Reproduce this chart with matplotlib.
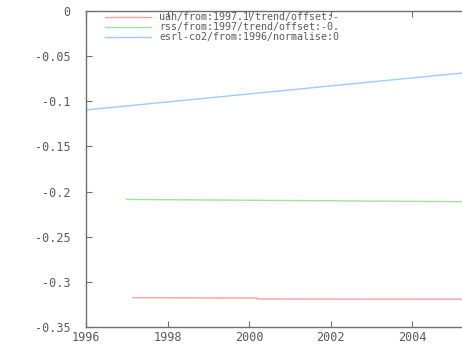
import matplotlib
matplotlib.use("Agg")
import matplotlib.pyplot as plt
from matplotlib.ticker import FixedLocator, FuncFormatter

# Data
labels = ["uah/from:1997.1/trend/offset:-",
          "rss/from:1997/trend/offset:-0.",
          "esrl-co2/from:1996/normalise:0"]
colors = ["#ff9f9f", "#9fe39f", "#9fcbff"]

uah_x = [1997.15, 2000.2, 2000.2, 2005.22]
uah_y = [-0.3175, -0.3180, -0.3190, -0.3192]
rss_x = [1997.0, 2005.22]
rss_y = [-0.2087, -0.2112]
co2_x = [1996.0, 2005.22]
co2_y = [-0.1096, -0.0687]

xticks = [1996, 1998, 2000, 2002, 2004]
yticks = [0, -0.05, -0.1, -0.15, -0.2, -0.25, -0.3, -0.35]

fig = plt.figure(figsize=(4.62, 3.47), dpi=100)
ax = fig.add_axes([86/462, 1-327/347, 376/462, 316/347])

ax.plot(uah_x, uah_y, color=colors[0], lw=1.0, label=labels[0])
ax.plot(rss_x, rss_y, color=colors[1], lw=1.0, label=labels[1])
ax.plot(co2_x, co2_y, color=colors[2], lw=1.0, label=labels[2])

ax.set_xlim(1996, 2005.22)
ax.set_ylim(-0.35, 0)

fam = "DejaVu Sans Mono"
fsize = 8.5
txtcol = "#5a5a5a"
ax.xaxis.set_major_locator(FixedLocator(xticks))
ax.yaxis.set_major_locator(FixedLocator(yticks))
ax.xaxis.set_major_formatter(FuncFormatter(lambda v, p: "%d" % round(v)))
ax.yaxis.set_major_formatter(FuncFormatter(lambda v, p: "0" if abs(v) < 1e-9 else ("%g" % v)))
for lab in ax.get_xticklabels() + ax.get_yticklabels():
    lab.set_fontfamily(fam)
    lab.set_fontsize(fsize)
    lab.set_color(txtcol)

ax.tick_params(axis="both", direction="in", length=4, width=0.8, color="#707070",
               top=True, right=False)
ax.tick_params(axis="y", pad=11)
ax.tick_params(axis="x", pad=3)
for s in ["left", "bottom", "top"]:
    ax.spines[s].set_color("#707070")
    ax.spines[s].set_linewidth(1.0)
ax.spines["top"].set_linestyle((0, (1, 1)))
ax.spines["right"].set_visible(False)

leg = ax.legend(loc="upper left", bbox_to_anchor=(105/462, 1-12/347),
                bbox_transform=fig.transFigure, frameon=False,
                prop=dict(family=fam, size=7.2),
                handlelength=4.6, handletextpad=0.8, labelspacing=0.0,
                borderpad=0, borderaxespad=0)
for t in leg.get_texts():
    t.set_color(txtcol)

fig.savefig("out.png", dpi=100)
